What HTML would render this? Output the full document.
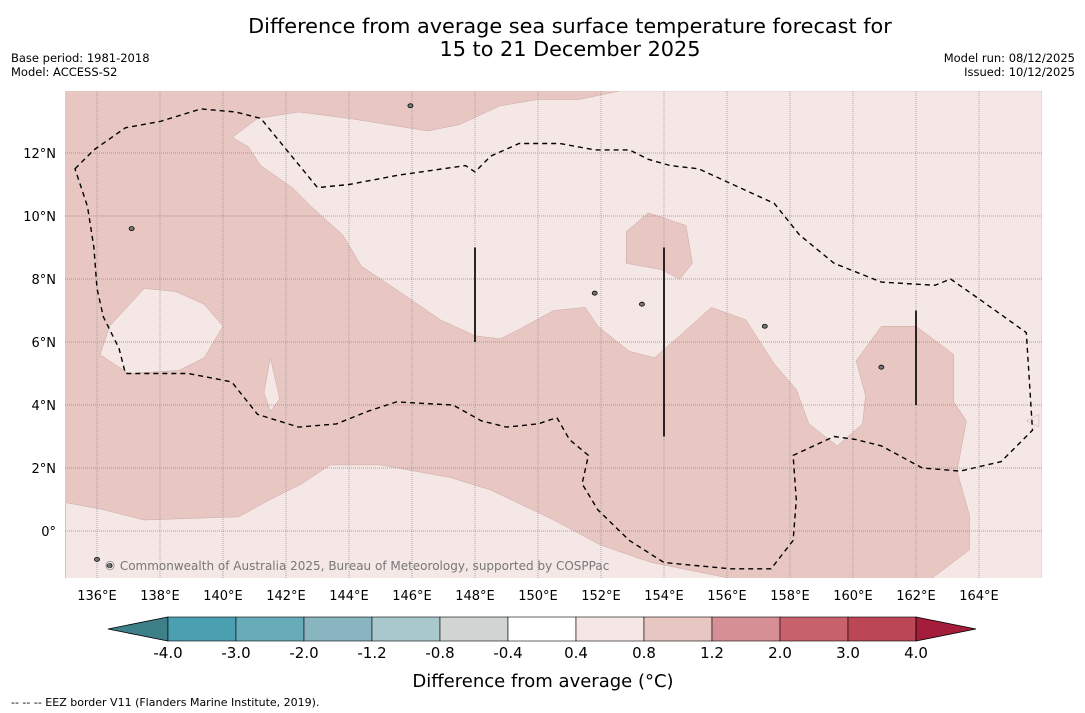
<!DOCTYPE html>
<html><head><meta charset="utf-8"><style>
body{margin:0;background:#fff;font-family:"Liberation Sans","DejaVu Sans",sans-serif;}
#wrap{position:relative;width:1085px;height:713px;overflow:hidden;background:#fff}
.t{position:absolute;white-space:nowrap;color:#000}
</style></head><body>
<div id="wrap">
<div class="t" style="left:0;width:1140px;top:15px;text-align:center;font-size:20.8px;line-height:23px;font-family:'DejaVu Sans',sans-serif">Difference from average sea surface temperature forecast for<br>15 to 21 December 2025</div>
<div class="t" style="left:11px;top:51px;font-size:11.5px;line-height:14px;font-family:'DejaVu Sans',sans-serif">Base period: 1981-2018<br>Model: ACCESS-S2</div>
<div class="t" style="right:10px;top:51px;font-size:11.5px;line-height:14px;text-align:right;font-family:'DejaVu Sans',sans-serif">Model run: 08/12/2025<br>Issued: 10/12/2025</div>
<svg id="svg" width="1085" height="713" style="position:absolute;left:0;top:0" font-family="DejaVu Sans, Liberation Sans, sans-serif"></svg>
</div>
<script>
const lonTicks=[136,138,140,142,144,146,148,150,152,154,156,158,160,162,164];
const latTicks=[0,2,4,6,8,10,12];
const cbLabels=["-4.0","-3.0","-2.0","-1.2","-0.8","-0.4","0.4","0.8","1.2","2.0","3.0","4.0"];
const cbColors=["#4aa0b0","#68abb9","#88b5c0","#a9c8cc","#d0d4d3","#ffffff","#f5e7e5","#e8c7c2","#d58f95","#c8636d","#bb4756"];
const lightTop=[[140.3,12.5],[141.1,13.1],[142.4,13.3],[144.0,13.1],[146.5,12.7],[147.5,12.9],[148.8,13.5],[150.0,13.7],[151.3,13.7],[152.6,13.97],[166,13.97],[166,-1.5],[162.5,-1.5],[163.7,-0.6],[163.7,0.5],[163.3,1.9],[163.6,3.5],[163.2,4.1],[163.2,5.6],[162.0,6.5],[160.9,6.5],[160.1,5.4],[160.4,4.3],[160.3,3.4],[159.5,2.7],[158.6,3.4],[158.2,4.5],[157.5,5.3],[156.6,6.7],[155.5,7.1],[154.5,6.2],[153.7,5.5],[152.9,5.7],[151.9,6.5],[151.5,7.1],[150.5,7.0],[149.4,6.4],[148.8,6.1],[148.0,6.2],[146.9,6.7],[145.6,7.6],[144.4,8.4],[143.8,9.4],[142.8,10.3],[142.2,10.9],[141.2,11.6],[140.8,12.2]];
const pinkIsland=[[152.8,9.5],[153.5,10.1],[154.7,9.7],[154.9,8.5],[154.5,8.0],[153.9,8.3],[152.8,8.5]];
const lightLeft=[[136.1,5.6],[136.4,6.5],[137.5,7.7],[138.5,7.6],[139.4,7.2],[140.0,6.5],[139.4,5.5],[138.6,5.1],[137.0,5.0]];
const lightSliver=[[141.3,4.4],[141.5,5.5],[141.8,4.2],[141.5,3.8]];
const lightBottom=[[135,0.9],[136.1,0.7],[137.5,0.35],[140.5,0.45],[141.5,1.0],[142.5,1.5],[143.4,2.1],[145.0,2.1],[147.2,1.7],[148.5,1.3],[150.4,0.4],[152.0,-0.45],[153.6,-1.0],[156.1,-1.5],[135,-1.5]];
const lightRightBit=[[165.5,3.5],[165.9,3.7],[165.9,3.3]];
const dashed=[[135.3,11.5],[135.9,12.1],[136.9,12.8],[138.0,13.0],[139.3,13.4],[140.4,13.3],[141.2,13.1],[142.1,12.0],[143.0,10.9],[144.0,11.0],[145.6,11.3],[147.7,11.6],[148.0,11.4],[148.5,11.9],[149.4,12.3],[150.7,12.3],[151.8,12.1],[152.9,12.1],[153.5,11.8],[154.2,11.6],[155.1,11.5],[156.4,10.9],[157.5,10.4],[158.3,9.4],[159.4,8.5],[160.9,7.9],[162.6,7.8],[163.1,8.0],[164.1,7.3],[165.5,6.3],[165.7,3.2],[164.7,2.2],[163.4,1.9],[162.2,2.0],[160.9,2.7],[160.1,2.9],[159.4,3.0],[158.1,2.4],[158.2,0.98],[158.1,-0.3],[157.4,-1.2],[156.1,-1.2],[154.0,-1.0],[152.9,-0.3],[151.9,0.67],[151.4,1.5],[151.6,2.4],[151.0,2.9],[150.6,3.6],[150.0,3.4],[149.0,3.3],[148.2,3.5],[147.3,4.0],[145.5,4.1],[144.6,3.8],[143.6,3.4],[142.4,3.3],[141.1,3.7],[140.3,4.7],[140.2,4.75],[138.9,5.0],[137.9,5.0],[136.9,5.0],[136.7,5.8],[136.2,6.8],[136.0,7.7],[135.9,9.0],[135.7,10.3]];
const vbars=[[148,6,9],[154,3,9],[162,4,7]];
const islands=[[145.95,13.5],[137.1,9.6],[153.3,7.2],[157.2,6.5],[160.9,5.2],[151.8,7.55],[136.0,-0.9],[136.4,-1.1]];

const NS="http://www.w3.org/2000/svg";
const svg=document.getElementById('svg');
const X0=65.5,Y0=531,K=31.5;
const px=l=>X0+(l-135)*K, py=a=>Y0-a*K;
function mk(t,a,p){const e=document.createElementNS(NS,t);for(const k in a)e.setAttribute(k,a[k]);(p||svg).appendChild(e);return e;}
function pts(arr){return arr.map(p=>px(p[0]).toFixed(1)+','+py(p[1]).toFixed(1)).join(' ');}
const g=mk('g',{});


mk('defs',{}).innerHTML='<clipPath id="cp"><rect x="65" y="91" width="977" height="487"/></clipPath>';
g.setAttribute('clip-path','url(#cp)');
let e=mk('rect',{x:65,y:91,width:977,height:487,fill:'#e8c7c2'},g);

[[lightTop,'#f5e7e5','light-region-north'],[pinkIsland,'#e8c7c2','warm-patch'],[lightLeft,'#f5e7e5','light-region-west'],[lightSliver,'#f5e7e5','light-sliver'],[lightBottom,'#f5e7e5','light-region-south'],[lightRightBit,'#f5e7e5','light-region-east']].forEach(([p,c,n])=>{
 const q=mk('polygon',{points:pts(p),fill:c,stroke:'#c9a9a4','stroke-width':0.5},g);
 
});
lonTicks.forEach(l=>{const q=mk('line',{x1:px(l),x2:px(l),y1:91,y2:578,stroke:'#999','stroke-width':0.8,'stroke-dasharray':'1,1'},g);
 });
latTicks.forEach(a=>{const q=mk('line',{x1:65,x2:1042,y1:py(a),y2:py(a),stroke:'#888','stroke-width':0.8,'stroke-dasharray':'1,1'},g);
 });
e=mk('polygon',{points:pts(dashed),fill:'none',stroke:'#000','stroke-width':1.4,'stroke-dasharray':'5,4'},g);

vbars.forEach(v=>{const q=mk('line',{x1:px(v[0]),x2:px(v[0]),y1:py(v[2]),y2:py(v[1]),stroke:'#111','stroke-width':1.8},g);
 });
islands.forEach(i=>{const q=mk('ellipse',{cx:px(i[0]),cy:py(i[1]),rx:2.5,ry:2,fill:'#777',stroke:'#000','stroke-width':0.8},g);
 });
e=mk('text',{x:104,y:570,'font-size':12,fill:'#777'},g);e.textContent='© Commonwealth of Australia 2025, Bureau of Meteorology, supported by COSPPac';

lonTicks.forEach(l=>{const t=mk('text',{x:px(l),y:600,'font-size':13,'text-anchor':'middle'});t.textContent=l+'°E';
 });
latTicks.forEach(a=>{const t=mk('text',{x:56,y:py(a)+5,'font-size':13,'text-anchor':'end'});t.textContent=a===0?'0°':a+'°N';
 });
const cx0=168,cw=68,cy=617,ch=24;
e=mk('polygon',{points:`108,629 ${cx0},${cy} ${cx0},${cy+ch}`,fill:'#3d8088',stroke:'#000','stroke-width':0.8});

cbColors.forEach((c,i)=>{const q=mk('rect',{x:cx0+i*cw,y:cy,width:cw,height:ch,fill:c,stroke:'#000','stroke-width':0.6});
 });
const xe=cx0+cbColors.length*cw;
e=mk('polygon',{points:`${xe},${cy} ${xe+60},629 ${xe},${cy+ch}`,fill:'#a41d3a',stroke:'#000','stroke-width':0.8});

cbLabels.forEach((s,i)=>{const t=mk('text',{x:cx0+i*cw,y:658,'font-size':15,'text-anchor':'middle'});t.textContent=s;
 });
e=mk('text',{x:543,y:687,'font-size':18,'text-anchor':'middle'});e.textContent='Difference from average (°C)';

e=mk('text',{x:11,y:706,'font-size':11});e.textContent='--  --  -- EEZ border V11 (Flanders Marine Institute, 2019).';

</script>
</body></html>
